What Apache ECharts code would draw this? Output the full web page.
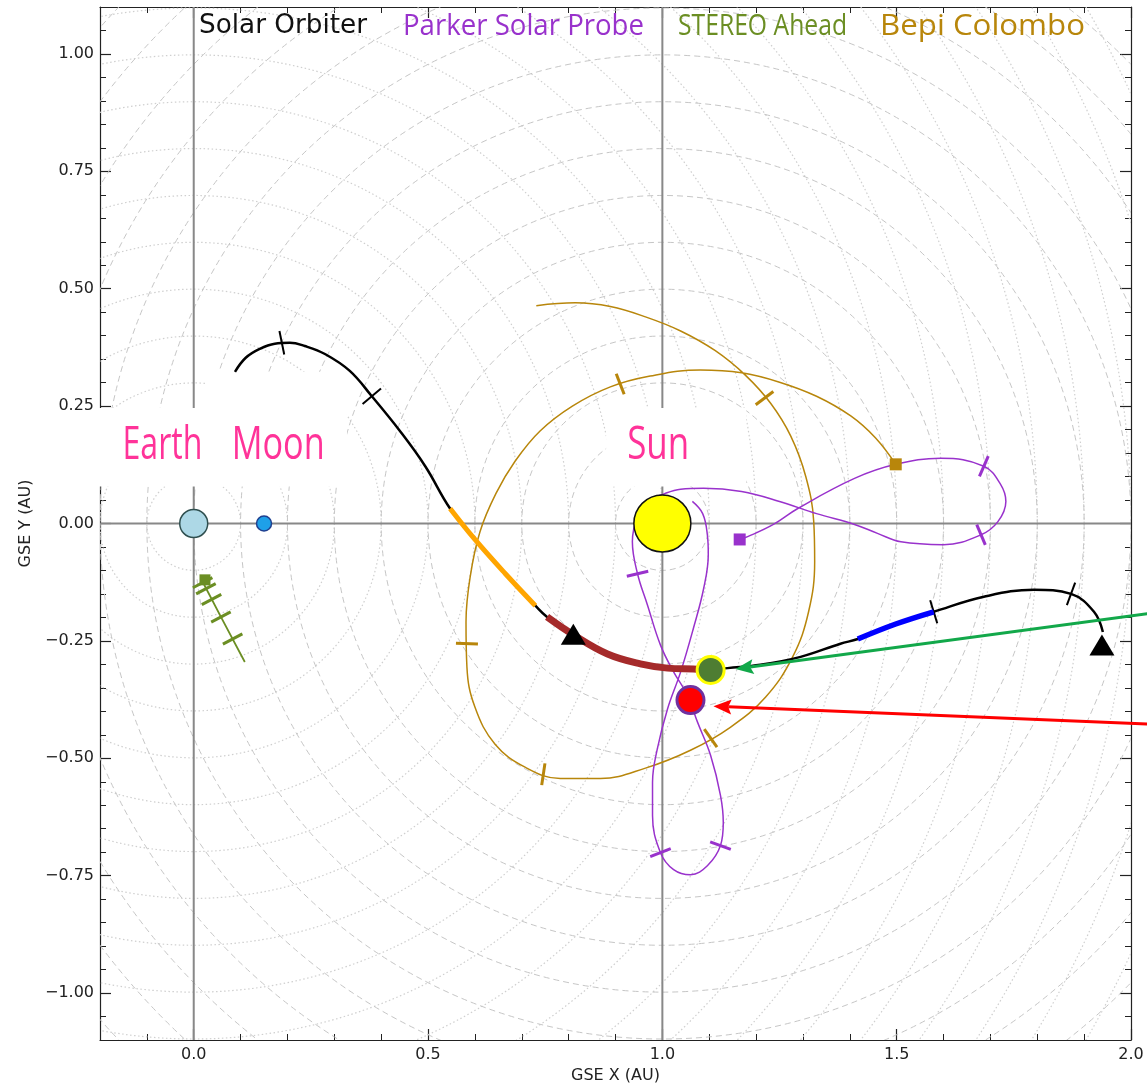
<!DOCTYPE html>
<html>
<head>
<meta charset="utf-8">
<script src="https://cdn.jsdelivr.net/npm/echarts@6/dist/echarts.min.js"></script>
<style>
  html, body { margin: 0; padding: 0; background: #ffffff; }
  #chart { width: 1147px; height: 1089px; }
</style>
</head>
<body>
<div id="chart"></div>
<script>
// ---------- Data: GSE ecliptic-plane positions in AU ----------
const xMajorTicks = [0, 0.5, 1.0, 1.5, 2.0];
const yMajorTicks = [-1.0, -0.75, -0.5, -0.25, 0, 0.25, 0.5, 0.75, 1.0];

// reference rings: dashed around the Sun, dotted around the Earth
const sunRingRadii = [0.1, 0.2, 0.3, 0.4, 0.5, 0.6, 0.7, 0.8, 0.9, 1.0, 1.1, 1.2, 1.3, 1.4, 1.5, 1.6, 1.7];
const earthRingRadii = [0.1, 0.2, 0.3, 0.4, 0.5, 0.6, 0.7, 0.8, 0.9, 1.0, 1.1, 1.2, 1.3, 1.4, 1.5, 1.6, 1.7, 1.8, 1.9, 2.0, 2.1, 2.2, 2.3];

const craftNames = ['Solar Orbiter', 'Parker Solar Probe', 'STEREO Ahead', 'Bepi Colombo'];

const earthPos = [0, 0];
const moonPos = [0.15, 0];
const sunPos = [1, 0];

// Solar Orbiter
const soloTrack = [
  [0.088, 0.323], [0.111, 0.353], [0.141, 0.372], [0.173, 0.383], [0.205, 0.385],
  [0.237, 0.378], [0.280, 0.361], [0.333, 0.325], [0.380, 0.271], [0.440, 0.197],
  [0.494, 0.122], [0.547, 0.032], [0.600, -0.034], [0.665, -0.107], [0.729, -0.175],
  [0.754, -0.199], [0.810, -0.237], [0.883, -0.278], [0.953, -0.299], [1.011, -0.308],
  [1.066, -0.310], [1.103, -0.312], [1.139, -0.308], [1.209, -0.301], [1.295, -0.284],
  [1.380, -0.256], [1.417, -0.246], [1.498, -0.214], [1.579, -0.188], [1.686, -0.156],
  [1.793, -0.141], [1.872, -0.150], [1.921, -0.188], [1.940, -0.231]
];
const soloOrange = [[0.547, 0.032], [0.600, -0.034], [0.665, -0.107], [0.729, -0.175]];
const soloRed = [[0.754, -0.199], [0.810, -0.237], [0.883, -0.278], [0.953, -0.299], [1.011, -0.308], [1.066, -0.310], [1.090, -0.311]];
const soloBlue = [[1.417, -0.246], [1.498, -0.214], [1.579, -0.188]];
const soloTicks = [[0.188, 0.385], [0.380, 0.271], [1.579, -0.188], [1.872, -0.150]];
const soloTriangles = [[0.810, -0.236], [1.938, -0.259]];

// Parker Solar Probe
const pspTrack = [
  [1.165, -0.034], [1.182, -0.028], [1.237, -0.002], [1.289, 0.032], [1.410, 0.096],
  [1.498, 0.126], [1.594, 0.139], [1.686, 0.122], [1.722, 0.083], [1.733, 0.047],
  [1.716, 0.004], [1.680, -0.024], [1.600, -0.045], [1.509, -0.039], [1.459, -0.021],
  [1.410, -0.002], [1.329, 0.021], [1.250, 0.047], [1.169, 0.068], [1.088, 0.075],
  [1.039, 0.073], [1.006, 0.064], [0.970, 0.047], [0.947, 0.015], [0.936, -0.039],
  [0.947, -0.107], [0.968, -0.173], [0.996, -0.259], [1.024, -0.316], [1.053, -0.365],
  [1.075, -0.423], [1.103, -0.494], [1.124, -0.579], [1.130, -0.637], [1.124, -0.686],
  [1.096, -0.729], [1.060, -0.748], [1.024, -0.737], [0.996, -0.701], [0.979, -0.622],
  [0.979, -0.551], [0.989, -0.481], [1.011, -0.395], [1.039, -0.316], [1.066, -0.224],
  [1.088, -0.139], [1.098, -0.066], [1.096, -0.024], [1.086, 0.021], [1.064, 0.047]
];
const pspTicks = [[0.947, -0.107], [0.996, -0.701], [1.124, -0.686], [1.686, 0.122], [1.680, -0.024]];
const pspStart = [1.165, -0.034];

// STEREO Ahead
const staTrack = [[0.019, -0.124], [0.058, -0.199], [0.109, -0.295]];
const staTicks = [[0.019, -0.126], [0.026, -0.139], [0.038, -0.162], [0.058, -0.199], [0.083, -0.246]];
const staStart = [0.024, -0.120];

// BepiColombo
const bepiTrack = [
  [0.731, 0.464], [0.814, 0.470], [0.889, 0.462], [0.964, 0.440], [1.039, 0.410],
  [1.113, 0.368], [1.177, 0.316], [1.231, 0.256], [1.274, 0.186], [1.306, 0.100],
  [1.323, 0.004], [1.325, -0.081], [1.312, -0.188], [1.278, -0.284], [1.220, -0.370],
  [1.145, -0.434], [1.060, -0.483], [0.964, -0.521], [0.868, -0.543], [0.782, -0.543],
  [0.707, -0.519], [0.643, -0.470], [0.600, -0.391], [0.583, -0.306], [0.581, -0.209],
  [0.590, -0.113], [0.611, -0.017], [0.645, 0.064], [0.686, 0.133], [0.739, 0.197],
  [0.808, 0.250], [0.889, 0.291], [0.974, 0.314], [1.081, 0.327], [1.169, 0.321],
  [1.250, 0.301], [1.329, 0.271], [1.402, 0.229], [1.455, 0.182], [1.498, 0.126]
];
const bepiTicks = [[0.910, 0.297], [1.218, 0.267], [0.583, -0.256], [0.746, -0.534], [1.103, -0.457]];
const bepiStart = [1.498, 0.126];

// highlighted positions and the call-out arrows pointing at them
const greenMarkerPos = [1.103, -0.312];
const redMarkerPos = [1.060, -0.376];
const greenArrow = [[2.036, -0.192], [1.156, -0.310]];
const redArrow = [[2.036, -0.427], [1.109, -0.389]];

// ---------- Helpers ----------
const measureCtx = document.createElement('canvas').getContext('2d');
function fitScale(text, font, width) {
  measureCtx.font = font;
  const w = measureCtx.measureText(text).width;
  return w > 0 ? width / w : 1;
}

const COLORS = {
  solo: '#000000', psp: '#9932cc', sta: '#6b8e23', bepi: '#b8860b'
};

function ringSeries(center, radii, style) {
  return {
    type: 'custom', z: 1, silent: true, clip: true,
    data: radii.map(r => [center[0], center[1], r]),
    encode: { x: 0, y: 1 },
    renderItem: (params, api) => {
      const c = api.coord([api.value(0), api.value(1)]);
      const r = api.size([api.value(2), 0])[0];
      return { type: 'circle', shape: { cx: c[0], cy: c[1], r: r }, style: style };
    }
  };
}

function trackSeries(points, color, width, z, smooth) {
  return {
    type: 'line', data: points, z: z, symbol: 'none', silent: true,
    smooth: smooth === undefined ? 0.4 : smooth,
    lineStyle: { color: color, width: width, cap: 'butt', join: 'round' }
  };
}

// short cross-bars drawn perpendicular to the track at each tick position
function tickSeries(track, ticks, color, len, width, z) {
  return {
    type: 'custom', z: z, silent: true, clip: false,
    data: ticks, encode: { x: 0, y: 1 },
    renderItem: (params, api) => {
      const p = api.coord([api.value(0), api.value(1)]);
      const pts = track.map(q => api.coord(q));
      let bi = 0, bd = Infinity;
      pts.forEach((q, i) => {
        const d = (q[0] - p[0]) ** 2 + (q[1] - p[1]) ** 2;
        if (d < bd) { bd = d; bi = i; }
      });
      const a = pts[Math.max(0, bi - 1)], b = pts[Math.min(pts.length - 1, bi + 1)];
      const dx = b[0] - a[0], dy = b[1] - a[1];
      const L = Math.hypot(dx, dy) || 1;
      const nx = -dy / L, ny = dx / L;
      return {
        type: 'line',
        shape: { x1: p[0] - nx * len / 2, y1: p[1] - ny * len / 2, x2: p[0] + nx * len / 2, y2: p[1] + ny * len / 2 },
        style: { stroke: color, lineWidth: width }
      };
    }
  };
}

function axisLineSeries(points) {
  return {
    type: 'line', data: points, z: 2, symbol: 'none', silent: true,
    lineStyle: { color: '#888888', width: 2 }
  };
}

// call-out arrow: shaft plus a filled, slightly notched head at the end point
function arrowSeries(seg, color) {
  return {
    type: 'custom', z: 12, silent: true, clip: false,
    data: [[seg[0][0], seg[0][1], seg[1][0], seg[1][1]]],
    encode: { x: [0, 2], y: [1, 3] },
    renderItem: (params, api) => {
      const a = api.coord([api.value(0), api.value(1)]);
      const b = api.coord([api.value(2), api.value(3)]);
      const dx = b[0] - a[0], dy = b[1] - a[1];
      const L = Math.hypot(dx, dy) || 1;
      const ux = dx / L, uy = dy / L, nx = -uy, ny = ux;
      const headLen = 18, headHalf = 7.5;
      const base = [b[0] - ux * headLen, b[1] - uy * headLen];
      const notch = [b[0] - ux * headLen * 0.82, b[1] - uy * headLen * 0.82];
      return {
        type: 'group',
        children: [
          { type: 'line', shape: { x1: a[0], y1: a[1], x2: notch[0], y2: notch[1] }, style: { stroke: color, lineWidth: 3 } },
          {
            type: 'polygon',
            shape: { points: [b, [base[0] + nx * headHalf, base[1] + ny * headHalf], notch, [base[0] - nx * headHalf, base[1] - ny * headHalf]] },
            style: { fill: color }
          }
        ]
      };
    }
  };
}

const tickFont = { fontFamily: 'DejaVu Sans', fontSize: 16, color: '#222222' };
const X_MIN = -0.2, X_MAX = 2.0, Y_MIN = -1.1, Y_MAX = 1.1;

function xAxisDef(position, major) {
  return {
    type: 'value', position: position, min: X_MIN, max: X_MAX,
    interval: major ? undefined : 0.1,
    axisLine: { show: major, onZero: false, lineStyle: { color: '#222222', width: 1.2 } },
    axisTick: major
      ? { show: true, inside: true, length: 11, customValues: xMajorTicks, lineStyle: { color: '#222222', width: 1.2 } }
      : { show: true, inside: true, length: 6, lineStyle: { color: '#222222', width: 1 } },
    axisLabel: (major && position === 'bottom')
      ? Object.assign({ show: true, customValues: xMajorTicks, margin: 7, formatter: v => v.toFixed(1) }, tickFont)
      : { show: false },
    splitLine: { show: false },
    name: (major && position === 'bottom') ? 'GSE X (AU)' : '',
    nameLocation: 'middle', nameGap: 28,
    nameTextStyle: { fontFamily: 'DejaVu Sans', fontSize: 16, color: '#222222' }
  };
}

function yAxisDef(position, major) {
  return {
    type: 'value', position: position, min: Y_MIN, max: Y_MAX,
    interval: major ? undefined : 0.05,
    axisLine: { show: major, onZero: false, lineStyle: { color: '#222222', width: 1.2 } },
    axisTick: major
      ? { show: true, inside: true, length: 11, customValues: yMajorTicks, lineStyle: { color: '#222222', width: 1.2 } }
      : { show: true, inside: true, length: 6, lineStyle: { color: '#222222', width: 1 } },
    axisLabel: (major && position === 'left')
      ? Object.assign({
          show: true, customValues: yMajorTicks, margin: 6,
          formatter: v => (v < 0 ? '\u2212' : '') + Math.abs(v).toFixed(2)
        }, tickFont)
      : { show: false },
    splitLine: { show: false },
    name: (major && position === 'left') ? 'GSE Y (AU)' : '',
    nameLocation: 'middle', nameGap: 66, nameRotate: 90,
    nameTextStyle: { fontFamily: 'DejaVu Sans', fontSize: 16, color: '#222222' }
  };
}

// label boxes with the body names
const pinkFont = '46px "Open Sans"';
const labelSeries = {
  type: 'custom', z: 4, silent: true, clip: false, data: [0],
  renderItem: (params, api) => {
    const box = (x0, y0, x1, y1) => {
      const a = api.coord([x0, y1]), b = api.coord([x1, y0]);
      return { type: 'rect', shape: { x: a[0], y: a[1], width: b[0] - a[0], height: b[1] - a[1] }, style: { fill: '#ffffff' } };
    };
    const txt = (s, at, w) => {
      const p = api.coord(at);
      return {
        type: 'text', x: p[0], y: p[1], scaleX: fitScale(s, pinkFont, w),
        style: { text: s, font: pinkFont, fill: '#ff3399', align: 'left', verticalAlign: 'middle' }
      };
    };
    return {
      type: 'group',
      children: [
        box(-0.205, 0.079, 0.327, 0.246),
        box(0.028, 0.246, 0.327, 0.323),
        box(0.880, 0.079, 1.179, 0.246),
        txt('Earth', [-0.152, 0.166], 80),
        txt('Moon', [0.081, 0.166], 93),
        txt('Sun', [0.925, 0.166], 62)
      ]
    };
  }
};

// spacecraft names across the top
const titleLayout = [
  { font: '26px "DejaVu Sans"', fill: '#111111', x: 199, w: 168 },
  { font: '30px "Open Sans"', fill: COLORS.psp, x: 403, w: 241 },
  { font: '30px "Open Sans"', fill: COLORS.sta, x: 678, w: 169 },
  { font: '30px "Open Sans"', fill: COLORS.bepi, x: 880, w: 205 }
];

const solid = { opacity: 1 };

const option = {
  animation: false,
  backgroundColor: '#ffffff',
  grid: { left: 100, right: 16, top: 7, bottom: 49, containLabel: false },
  xAxis: [xAxisDef('bottom', true), xAxisDef('bottom', false), xAxisDef('top', true), xAxisDef('top', false)],
  yAxis: [yAxisDef('left', true), yAxisDef('left', false), yAxisDef('right', true), yAxisDef('right', false)],
  graphic: craftNames.map((name, i) => ({
    type: 'text', x: titleLayout[i].x, y: 26, z: 100,
    scaleX: fitScale(name, titleLayout[i].font, titleLayout[i].w),
    style: { text: name, font: titleLayout[i].font, fill: titleLayout[i].fill, align: 'left', verticalAlign: 'middle' }
  })),
  series: [
    ringSeries(earthPos, earthRingRadii, { fill: null, stroke: '#cfcfcf', lineWidth: 1.2, lineDash: [1.5, 2.5] }),
    ringSeries(sunPos, sunRingRadii, { fill: null, stroke: '#c6c6c6', lineWidth: 1, lineDash: [6, 4] }),
    axisLineSeries([[0, Y_MIN], [0, Y_MAX]]),
    axisLineSeries([[1, Y_MIN], [1, Y_MAX]]),
    axisLineSeries([[X_MIN, 0], [X_MAX, 0]]),
    labelSeries,

    // BepiColombo
    trackSeries(bepiTrack, COLORS.bepi, 1.5, 5),
    tickSeries(bepiTrack, bepiTicks, COLORS.bepi, 22, 3, 5),
    // Parker Solar Probe
    trackSeries(pspTrack, COLORS.psp, 1.5, 5),
    tickSeries(pspTrack, pspTicks, COLORS.psp, 22, 3, 5),
    // STEREO Ahead
    trackSeries(staTrack, COLORS.sta, 1.8, 5, false),
    tickSeries(staTrack, staTicks, COLORS.sta, 22, 3, 5),
    // Solar Orbiter
    trackSeries(soloTrack, COLORS.solo, 2.5, 6),
    trackSeries(soloOrange, '#ffa500', 5, 6),
    trackSeries(soloRed, '#a52a2a', 7, 6),
    trackSeries(soloBlue, '#0000ff', 5.5, 6),
    tickSeries(soloTrack, soloTicks, COLORS.solo, 24, 2, 6),

    // start markers and end triangles
    {
      type: 'scatter', z: 7, silent: true, symbol: 'rect',
      data: [
        { value: staStart, symbolSize: 11, itemStyle: { color: COLORS.sta, opacity: 1 } },
        { value: pspStart, symbolSize: 12, itemStyle: { color: COLORS.psp, opacity: 1 } },
        { value: bepiStart, symbolSize: 12, itemStyle: { color: COLORS.bepi, opacity: 1 } }
      ]
    },
    {
      type: 'scatter', z: 7, silent: true, symbol: 'triangle', symbolSize: [25, 21],
      itemStyle: { color: '#000000', opacity: 1 }, data: soloTriangles
    },

    // Earth, Moon, Sun
    {
      type: 'scatter', z: 8, silent: true, symbol: 'circle', itemStyle: solid,
      data: [
        { value: earthPos, symbolSize: 28, itemStyle: { color: '#add8e6', borderColor: '#2f4f4f', borderWidth: 1.5, opacity: 1 } },
        { value: moonPos, symbolSize: 15, itemStyle: { color: '#1ea0e8', borderColor: '#1f3f8f', borderWidth: 1.5, opacity: 1 } },
        { value: sunPos, symbolSize: 57, itemStyle: { color: '#ffff00', borderColor: '#111111', borderWidth: 1.5, opacity: 1 } }
      ]
    },

    // highlighted positions
    {
      type: 'scatter', z: 9, silent: true, symbol: 'circle', itemStyle: solid,
      data: [
        { value: greenMarkerPos, symbolSize: 27, itemStyle: { color: '#4e7d32', borderColor: '#ffff00', borderWidth: 3, opacity: 1 } },
        { value: redMarkerPos, symbolSize: 27, itemStyle: { color: '#ff0000', borderColor: '#7030a0', borderWidth: 3, opacity: 1 } }
      ]
    },
    arrowSeries(greenArrow, '#12a84a'),
    arrowSeries(redArrow, '#ff0000')
  ]
};

const chart = echarts.init(document.getElementById('chart'), null, { renderer: 'canvas' });
chart.setOption(option);
</script>
</body>
</html>
